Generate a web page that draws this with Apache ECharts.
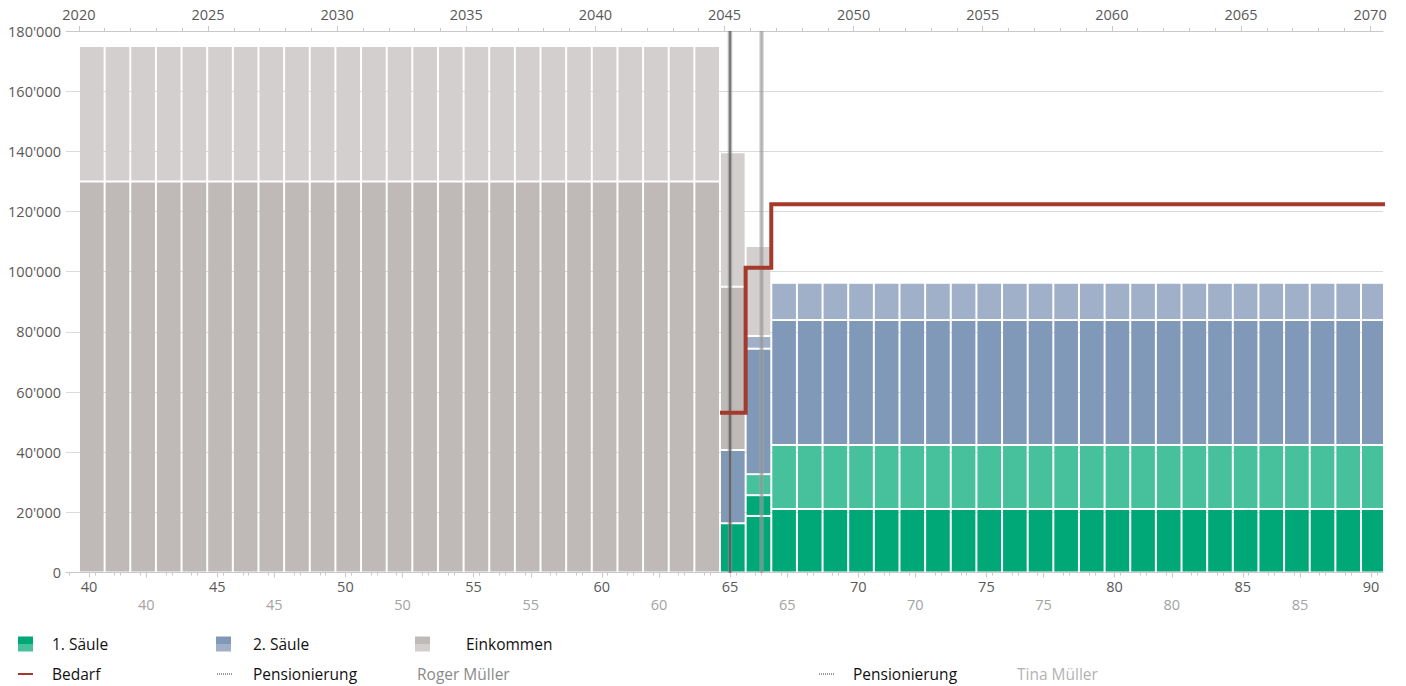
<!DOCTYPE html>
<html><head><meta charset="utf-8">
<script src="https://cdn.jsdelivr.net/npm/echarts@6/dist/echarts.min.js"></script>
<style>html,body{margin:0;padding:0;background:#fff}#c{width:1406px;height:686px}</style>
</head><body><div id="c"></div>
<script>
// ---------- DATA ----------
const years = [2020,2021,2022,2023,2024,2025,2026,2027,2028,2029,2030,2031,2032,2033,2034,2035,2036,2037,2038,2039,2040,2041,2042,2043,2044,
  2045,2046,
  2047,2048,2049,2050,2051,2052,2053,2054,2055,2056,2057,2058,2059,2060,2061,2062,2063,2064,2065,2066,2067,2068,2069,2070];
const N = null;
// 1. Säule – Roger (dark)
const saeule1Roger = [N,N,N,N,N,N,N,N,N,N,N,N,N,N,N,N,N,N,N,N,N,N,N,N,N,
  16400,18800,
  21100,21100,21100,21100,21100,21100,21100,21100,21100,21100,21100,21100,21100,21100,21100,21100,21100,21100,21100,21100,21100,21100,21100,21100];
// 1. Säule – additional dark segment in transition year
const saeule1RogerB = [N,N,N,N,N,N,N,N,N,N,N,N,N,N,N,N,N,N,N,N,N,N,N,N,N,
  N,6900,
  N,N,N,N,N,N,N,N,N,N,N,N,N,N,N,N,N,N,N,N,N,N,N,N];
// 1. Säule – Tina (light)
const saeule1Tina = [N,N,N,N,N,N,N,N,N,N,N,N,N,N,N,N,N,N,N,N,N,N,N,N,N,
  N,7000,
  21300,21300,21300,21300,21300,21300,21300,21300,21300,21300,21300,21300,21300,21300,21300,21300,21300,21300,21300,21300,21300,21300,21300,21300];
// 2. Säule – Roger (dark)
const saeule2Roger = [N,N,N,N,N,N,N,N,N,N,N,N,N,N,N,N,N,N,N,N,N,N,N,N,N,
  24300,41700,
  41500,41500,41500,41500,41500,41500,41500,41500,41500,41500,41500,41500,41500,41500,41500,41500,41500,41500,41500,41500,41500,41500,41500,41500];
// 2. Säule – Tina (light)
const saeule2Tina = [N,N,N,N,N,N,N,N,N,N,N,N,N,N,N,N,N,N,N,N,N,N,N,N,N,
  N,4200,
  12400,12400,12400,12400,12400,12400,12400,12400,12400,12400,12400,12400,12400,12400,12400,12400,12400,12400,12400,12400,12400,12400,12400,12400];
// Einkommen – Roger (dark)
const einkommenRoger = [130000,130000,130000,130000,130000,130000,130000,130000,130000,130000,130000,130000,130000,130000,130000,130000,130000,130000,130000,130000,130000,130000,130000,130000,130000,
  54300,N,
  N,N,N,N,N,N,N,N,N,N,N,N,N,N,N,N,N,N,N,N,N,N,N,N];
// Einkommen – Tina (light)
const einkommenTina = [45000,45000,45000,45000,45000,45000,45000,45000,45000,45000,45000,45000,45000,45000,45000,45000,45000,45000,45000,45000,45000,45000,45000,45000,45000,
  44700,29900,
  N,N,N,N,N,N,N,N,N,N,N,N,N,N,N,N,N,N,N,N,N,N,N,N];
// Bedarf
const bedarf = [N,N,N,N,N,N,N,N,N,N,N,N,N,N,N,N,N,N,N,N,N,N,N,N,N,
  53100,101300,
  122400,122400,122400,122400,122400,122400,122400,122400,122400,122400,122400,122400,122400,122400,122400,122400,122400,122400,122400,122400,122400,122400,122400,122400];

const rogerAgeAtFirstYear = 39.61;   // Roger's age at start of 2020
const tinaYounger = 2.23;            // years
const rogerRetireAge = 65;
const tinaRetireAge = 64;
const yearMajor = [2020,2025,2030,2035,2040,2045,2050,2055,2060,2065,2070];
const rogerAgeMajor = [40,45,50,55,60,65,70,75,80,85,90];
const tinaAgeMajor = [40,45,50,55,60,65,70,75,80,85];

// ---------- LAYOUT / STYLE ----------
const FONT = '"Open Sans", "Noto Sans", sans-serif';
const AX = '#c9c9c9';
const ageMin = 39.103, ageMax = 90.468;
const yearMin = 2019.5, yearMax = 2070.5;
const C = {
  g1: '#00a878', g2: '#47c19b',
  b1: '#8199b8', b2: '#9fb0c8',
  e1: '#bfbab7', e2: '#d2cfce',
  red: '#a33a2c'
};

function minorOf(from, to, majors) {
  const out = [];
  for (let v = from; v <= to; v++) if (majors.indexOf(v) < 0) out.push(v);
  return out;
}
const barStart = i => rogerAgeAtFirstYear + i;

// stacking (bottom -> top)
const stackDefs = [
  ['1. Säule', saeule1Roger, C.g1],
  ['1. Säule (2)', saeule1RogerB, C.g1],
  ['1. Säule Tina', saeule1Tina, C.g2],
  ['2. Säule', saeule2Roger, C.b1],
  ['2. Säule Tina', saeule2Tina, C.b2],
  ['Einkommen', einkommenRoger, C.e1],
  ['Einkommen Tina', einkommenTina, C.e2]
];
const cum = years.map(() => 0);
const barSeries = stackDefs.map(([name, arr, color]) => {
  const data = [];
  years.forEach((y, i) => {
    if (arr[i] == null) return;
    const y0 = cum[i], y1 = cum[i] + arr[i];
    cum[i] = y1;
    data.push([barStart(i), barStart(i) + 1, y0, y1]);
  });
  return {
    name, type: 'custom', xAxisIndex: 0, yAxisIndex: 0, z: 2, silent: true,
    encode: { x: [0, 1], y: [2, 3] },
    data,
    renderItem(params, api) {
      const a = api.coord([api.value(0), api.value(3)]);
      const b = api.coord([api.value(1), api.value(2)]);
      const cs = params.coordSys;
      const r = echarts.graphic.clipRectByRect(
        { x: a[0] + 1, y: a[1] + 1, width: b[0] - a[0] - 2, height: b[1] - a[1] - 2 },
        { x: cs.x, y: cs.y, width: cs.width, height: cs.height });
      return r && { type: 'rect', shape: r, style: { fill: color } };
    }
  };
});

const bedarfPts = [];
let lastIdx = -1;
years.forEach((y, i) => { if (bedarf[i] != null) { bedarfPts.push([barStart(i), bedarf[i]]); lastIdx = i; } });
bedarfPts.push([barStart(lastIdx) + 1, bedarf[lastIdx]]);

function axisBase(extra) {
  return Object.assign({
    type: 'value', gridIndex: 0, splitLine: { show: false },
    axisLine: { show: false, onZero: false }, axisPointer: { show: false }
  }, extra);
}
const labelStyle = { fontFamily: FONT, fontSize: 14.5, color: '#595959' };

const option = {
  animation: false,
  backgroundColor: '#fff',
  grid: { left: 66, right: 23, top: 31, bottom: 113.5, containLabel: false, outerBoundsMode: 'none' },
  xAxis: [
    axisBase({ min: ageMin, max: ageMax, position: 'bottom',
      axisLine: { show: true, onZero: false, lineStyle: { color: AX, width: 1 } },
      axisTick: { show: true, length: 5, customValues: rogerAgeMajor, lineStyle: { color: AX } },
      axisLabel: Object.assign({ show: true, margin: 6, customValues: rogerAgeMajor, formatter: v => String(v) }, labelStyle) }),
    axisBase({ min: ageMin, max: ageMax, position: 'bottom',
      axisTick: { show: true, length: 3, customValues: minorOf(40, 90, rogerAgeMajor), lineStyle: { color: AX } },
      axisLabel: { show: false } }),
    axisBase({ min: ageMin - tinaYounger, max: ageMax - tinaYounger, position: 'bottom',
      axisTick: { show: true, length: 5, customValues: tinaAgeMajor, lineStyle: { color: AX } },
      axisLabel: Object.assign({ show: true, margin: 24, customValues: tinaAgeMajor, formatter: v => String(v) }, labelStyle, { color: '#a3a3a3' }) }),
    axisBase({ min: ageMin - tinaYounger, max: ageMax - tinaYounger, position: 'bottom',
      axisTick: { show: true, length: 3, customValues: minorOf(37, 88, tinaAgeMajor), lineStyle: { color: AX } },
      axisLabel: { show: false } }),
    axisBase({ min: yearMin, max: yearMax, position: 'top',
      axisLine: { show: true, onZero: false, lineStyle: { color: AX, width: 1 } },
      axisTick: { show: true, length: 5, customValues: yearMajor, lineStyle: { color: AX } },
      axisLabel: Object.assign({ show: true, margin: 9, customValues: yearMajor, formatter: v => String(v) }, labelStyle) }),
    axisBase({ min: yearMin, max: yearMax, position: 'top',
      axisTick: { show: true, length: 3, customValues: minorOf(2020, 2070, yearMajor), lineStyle: { color: AX } },
      axisLabel: { show: false } })
  ],
  yAxis: [{
    type: 'value', min: 0, max: 180000, interval: 20000,
    axisLine: { show: false }, axisTick: { show: false },
    splitLine: { show: true, lineStyle: { color: '#dadada', width: 1 } },
    axisLabel: Object.assign({ margin: 5, formatter: v => String(v).replace(/\B(?=(\d{3})+(?!\d))/g, "'") }, labelStyle)
  }],
  series: barSeries.concat([
    // retirement lines
    { type: 'line', xAxisIndex: 0, yAxisIndex: 0, symbol: 'none', z: 4, silent: true,
      data: [[rogerRetireAge, 0], [rogerRetireAge, 180000]],
      lineStyle: { color: 'rgba(140,140,140,0.6)', width: 4.5 } },
    { type: 'line', xAxisIndex: 0, yAxisIndex: 0, symbol: 'none', z: 5, silent: true,
      data: [[rogerRetireAge, 0], [rogerRetireAge, 180000]],
      lineStyle: { color: '#3c3c3c', width: 2, type: [1, 1] } },
    { type: 'line', xAxisIndex: 2, yAxisIndex: 0, symbol: 'none', z: 4, silent: true,
      data: [[tinaRetireAge, 0], [tinaRetireAge, 180000]],
      lineStyle: { color: 'rgba(165,165,165,0.5)', width: 4.5 } },
    { type: 'line', xAxisIndex: 2, yAxisIndex: 0, symbol: 'none', z: 5, silent: true,
      data: [[tinaRetireAge, 0], [tinaRetireAge, 180000]],
      lineStyle: { color: '#8c8c8c', width: 2, type: [1, 1] } },
    // Bedarf
    { name: 'Bedarf', type: 'line', xAxisIndex: 0, yAxisIndex: 0, step: 'end', symbol: 'none', z: 6,
      data: bedarfPts, lineStyle: { color: C.red, width: 4, cap: 'butt', join: 'miter' } }
  ]),
  graphic: []
};

// ---------- LEGEND (custom, two rows) ----------
const txt = (x, y, t, color) => ({ type: 'text', x, y, silent: true,
  style: { text: t, fill: color || '#111', font: '15.5px ' + FONT, verticalAlign: 'middle', align: 'left' } });
const icon2 = (x, y, c1, c2) => ([
  { type: 'rect', shape: { x, y: y - 7.5, width: 15, height: 7.5 }, style: { fill: c1 }, silent: true },
  { type: 'rect', shape: { x, y: y, width: 15, height: 7.5 }, style: { fill: c2 }, silent: true }
]);
const dotIcon = (x, y) => ({ type: 'line', shape: { x1: x, y1: y, x2: x + 15, y2: y }, silent: true,
  style: { stroke: '#777', lineWidth: 1.5, lineDash: [1, 1] } });
const r1 = 644, r2 = 674;
option.graphic = [].concat(
  icon2(18, r1, C.g1, C.g2), [txt(52, r1, '1. Säule')],
  icon2(216, r1, C.b1, C.b2), [txt(253, r1, '2. Säule')],
  icon2(415, r1, C.e1, C.e2), [txt(466, r1, 'Einkommen')],
  [{ type: 'line', shape: { x1: 18, y1: r2, x2: 33, y2: r2 }, style: { stroke: C.red, lineWidth: 2 }, silent: true },
   txt(52, r2, 'Bedarf'),
   dotIcon(217, r2), txt(253, r2, 'Pensionierung'), txt(417, r2, 'Roger Müller', '#8a8a8a'),
   dotIcon(819, r2), txt(853, r2, 'Pensionierung'), txt(1017, r2, 'Tina Müller', '#b3b3b3')]
);

const chart = echarts.init(document.getElementById('c'), null, { renderer: 'svg' });
chart.setOption(option);
</script></body></html>
